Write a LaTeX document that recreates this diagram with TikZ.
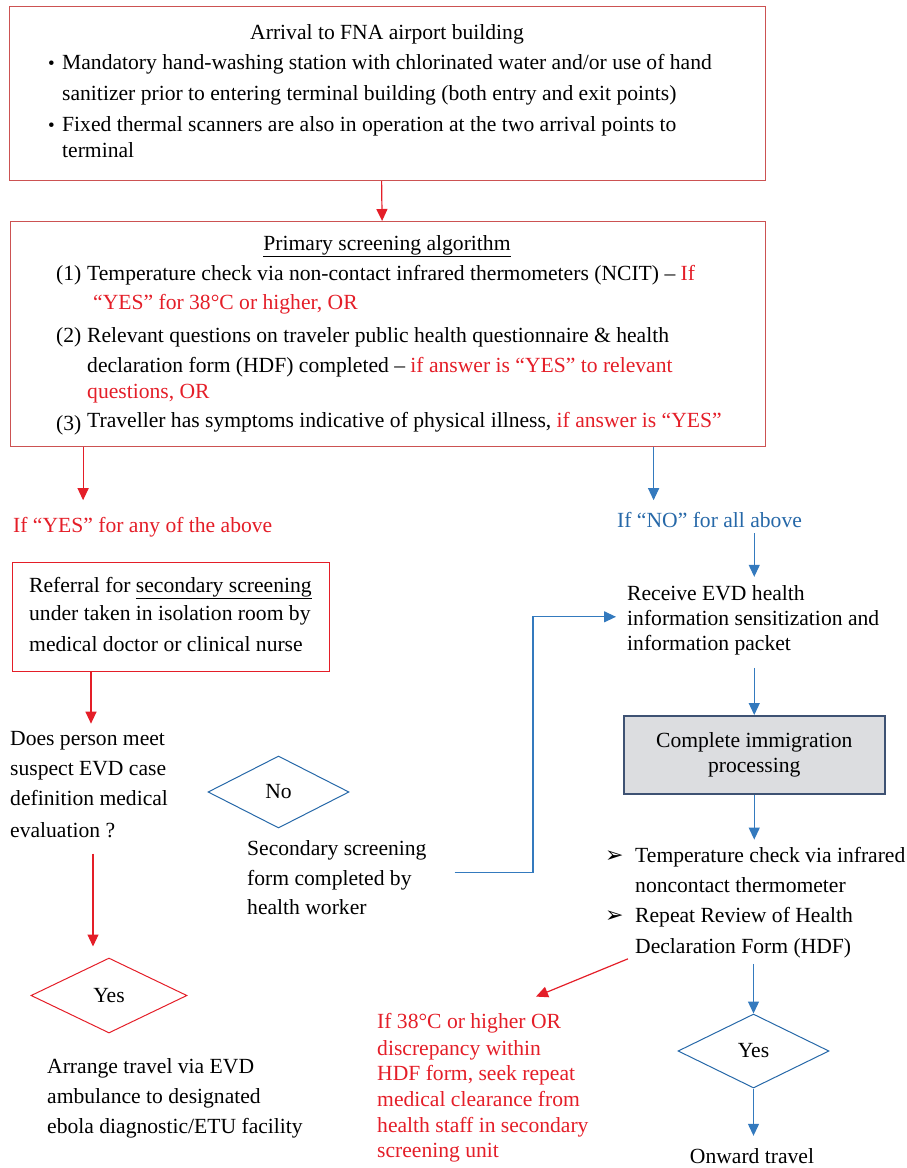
\documentclass[tikz,border=0pt]{standalone}
\usepackage{fontspec}
\setmainfont{Liberation Serif}
\newfontfamily\dingfont{DejaVu Sans}
\usetikzlibrary{arrows.meta,shapes.geometric}

\definecolor{framered}{RGB}{204,82,82}
\definecolor{flowred}{RGB}{228,30,40}
\definecolor{noteblue}{RGB}{38,104,168}
\definecolor{flowblue}{RGB}{52,122,190}
\definecolor{procgray}{RGB}{220,221,224}
\definecolor{procedge}{RGB}{62,82,115}

\begin{document}
\begin{tikzpicture}[x=1pt,y=-1pt,
    every node/.style={inner sep=0pt,font=\fontsize{21.6}{30}\selectfont},
    txt/.style={anchor=base west,align=left},
    redtxt/.style={txt,text=flowred},
    frame/.style={draw=framered,line width=1.2pt,anchor=north west},
    redarr/.style={draw=flowred,line width=1.2pt,-{Triangle[length=12pt,width=11pt]}},
    bluearr/.style={draw=flowblue,line width=1.2pt,-{Triangle[length=12pt,width=11pt]}},
    choice/.style={diamond,draw=#1,line width=1pt,aspect=2},
  ]
  \useasboundingbox (0,0) rectangle (907,1168);

  % arrival box (multi-line texts sit on their last baseline)
  \node[frame,minimum width=756pt,minimum height=174pt] (arrival) at (9,6) {};
  \node[anchor=base] (arrhead) at (387,39) {Arrival to FNA airport building};
  \foreach \y in {69,131}
    \node[txt,font=\fontsize{19}{19}\selectfont] (dot\y) at (48,\y) {•};
  \node[txt] (wash) at (62,100) {Mandatory hand-washing station with chlorinated water and/or use of hand\\[1pt]
    sanitizer prior to entering terminal building (both entry and exit points)};
  \node[txt] (scan) at (62,157) {Fixed thermal scanners are also in operation at the two arrival points to\\[-4pt]
    terminal};

  % primary screening
  \node[frame,minimum width=755pt,minimum height=225pt] (primary) at (10,221) {};
  \node[anchor=base] (primhead) at (387,250) {\underline{Primary screening algorithm}};
  \node[txt] (n1) at (56,280) {(1)};
  \node[txt] (chk1) at (87,280) {Temperature check via non-contact infrared thermometers (NCIT) – {\color{flowred}If}};
  \node[redtxt] (chk1b) at (93,309) {“YES” for 38°C or higher, OR};
  \node[txt] (n2) at (56,342) {(2)};
  \node[txt] (chk2) at (87,398) {Relevant questions on traveler public health questionnaire \& health\\
    declaration form (HDF) completed – {\color{flowred}if answer is “YES” to relevant}\\[-4pt]
    {\color{flowred}questions, OR}};
  \node[txt] (n3) at (56,430) {(3)};
  \node[txt] (chk3) at (87,427) {Traveller has symptoms indicative of physical illness, {\color{flowred}if answer is “YES”}};

  \node[redtxt] (yesany) at (13,532) {If “YES” for any of the above};
  \node[txt,text=noteblue] (noall) at (617,527) {If “NO” for all above};

  % left branch
  \node[frame,draw=flowred,minimum width=317pt,minimum height=109pt] (referral) at (12,562) {};
  \node[txt] (reftxt) at (29,651) {Referral for \underline{secondary screening}\\[-2pt]
    under taken in isolation room by\\[1pt]
    medical doctor or clinical nurse};
  \node[txt] (quest) at (10,837) {Does person meet\\ suspect EVD case\\ definition medical\\[2pt] evaluation ?};
  \node[choice=noteblue,minimum width=141pt,minimum height=72pt] (nodiam) at (278.5,792) {No};
  \node[txt] (form) at (247,914) {Secondary screening\\ form completed by\\[-1pt] health worker};
  \node[choice=flowred,minimum width=156pt,minimum height=75pt] (yesred) at (109,995.5) {Yes};
  \node[txt] (ambul) at (47,1133) {Arrange travel via EVD\\ ambulance to designated\\ ebola diagnostic/ETU facility};

  % right branch
  \node[txt] (receive) at (627,650) {Receive EVD health\\[-5pt] information sensitization and\\[-5pt] information packet};
  \node[frame,fill=procgray,draw=procedge,line width=1.5pt,minimum width=261pt,minimum height=78pt,align=center]
    (procbox) at (623,715) {Complete immigration\\[-5pt] processing};
  \foreach \y in {862,922}
    \node[txt,font=\dingfont\bfseries\fontsize{22}{22}\selectfont] (tip\y) at (605,\y) {➢};
  \node[txt] (temp) at (635,892) {Temperature check via infrared\\ noncontact thermometer};
  \node[txt] (review) at (635,953) {Repeat Review of Health\\[1pt] Declaration Form (HDF)};
  \node[redtxt] (recheck) at (377,1157) {If 38°C or higher OR\\[-3pt] discrepancy within\\[-5pt] HDF form, seek repeat\\[-4pt]
    medical clearance from\\[-4pt] health staff in secondary\\[-5pt] screening unit};
  \node[choice=noteblue,minimum width=151pt,minimum height=74pt] (yesblue) at (753.5,1051) {Yes};
  \node[anchor=base] (onward) at (752,1163) {Onward travel};

  % connectors
  \draw[redarr] ([xshift=-6pt]arrival.south) -- ([xshift=-6pt]primary.north);
  \draw[redarr] ([xshift=-305pt]primary.south) -- ++(0,53);
  \draw[bluearr] ([xshift=265.5pt]primary.south) -- ++(0,53);
  \draw[bluearr,shorten <=6pt,shorten >=8pt] (procbox.north |- noall.south) -- (procbox.north |- receive.north);
  \draw[bluearr,shorten <=13pt] (procbox.north |- receive.south) -- (procbox.north);
  \draw[bluearr,shorten >=7pt] (procbox.south) -- (procbox.south |- temp.north);
  \draw[bluearr,shorten <=6pt] (yesblue.north |- review.south) -- (yesblue.north);
  \draw[bluearr,shorten >=12pt] (yesblue.south) -- (yesblue.south |- onward.north);
  \draw[redarr,shorten >=7pt] ([xshift=79pt]referral.south west) -- ([xshift=79pt]referral.south west |- quest.north);
  \draw[redarr,shorten <=16pt,shorten >=11pt] ([xshift=83pt]quest.south west) -- ([xshift=83pt]quest.south west |- yesred.north);
  \draw[bluearr] ([xshift=28pt,yshift=5pt]form.east) -| ([xshift=-94pt,yshift=3pt]receive.west)
    -- ([xshift=-11pt,yshift=3pt]receive.west);
  \draw[redarr] ([xshift=-7pt,yshift=-1pt]review.south west) -- ([xshift=159pt,yshift=16pt]recheck.north west);
\end{tikzpicture}
\end{document}
